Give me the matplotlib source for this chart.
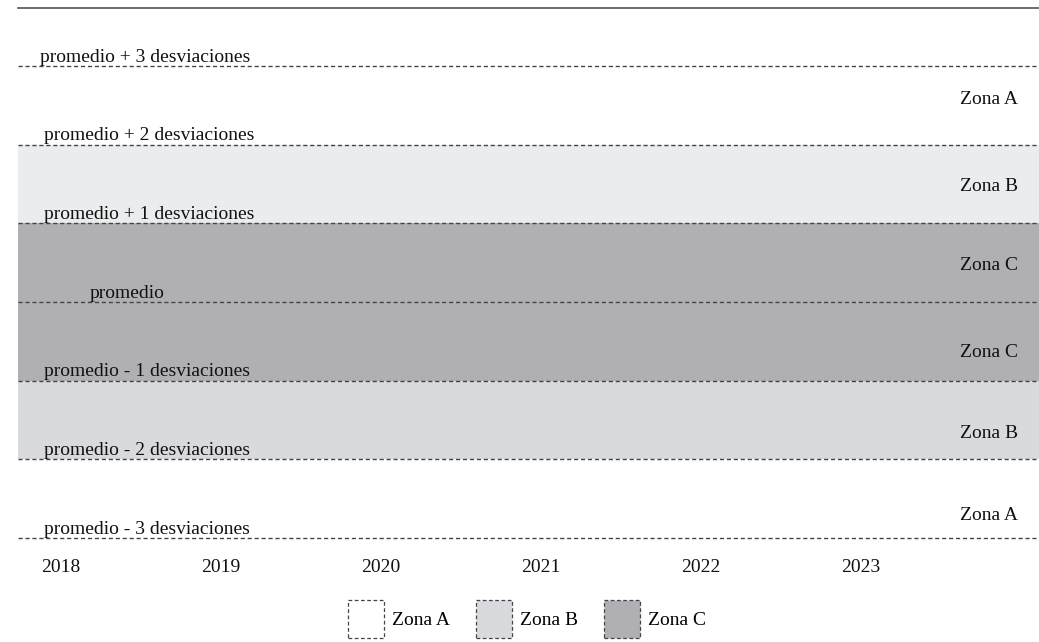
import matplotlib
matplotlib.use("Agg")
import matplotlib.pyplot as plt
from matplotlib.patches import Patch

# ---- data ----
years = [2018, 2019, 2020, 2021, 2022, 2023]
sigma_levels = [3, 2, 1, 0, -1, -2, -3]
level_labels = ["promedio + 3 desviaciones", "promedio + 2 desviaciones",
                "promedio + 1 desviaciones", "promedio",
                "promedio - 1 desviaciones", "promedio - 2 desviaciones",
                "promedio - 3 desviaciones"]
band_top = [3, 2, 1, 0, -1, -2]
band_bottom = [2, 1, 0, -1, -2, -3]
band_zone = ["Zona A", "Zona B", "Zona C", "Zona C", "Zona B", "Zona A"]
legend_zones = ["Zona A", "Zona B", "Zona C"]

# ---- styles ----
band_colors = ["#ffffff", "#ebecee", "#b0afb4", "#b0afb4", "#d9dadd", "#ffffff"]
legend_colors = ["#ffffff", "#d9dadd", "#b0afb4"]
line_color = "#444444"
FONT = "Liberation Serif"
FS = 14

plt.rcParams["font.family"] = [FONT, "DejaVu Serif"]

W, H = 1039, 642
fig = plt.figure(figsize=(W / 100, H / 100), dpi=100)
ax_left, ax_right = 18 / W, 1.0
ax_top, ax_bottom = 1 - 8 / H, 1 - 548 / H
ax = fig.add_axes([ax_left, ax_bottom, ax_right - ax_left, ax_top - ax_bottom])

px_per_sigma = (538 - 66) / 6.0
y_top = (302 - 8) / px_per_sigma
y_bot = (302 - 548) / px_per_sigma
ax.set_ylim(y_bot, y_top)
px_per_year = 160.0
ax.set_xlim(2018 - (61 - 18) / px_per_year, 2018 + (1039 - 61) / px_per_year)

# bands
for t, b, c in zip(band_top, band_bottom, band_colors):
    ax.axhspan(b, t, color=c, lw=0, zorder=0)

# dashed level lines
for lvl in sigma_levels:
    ax.axhline(lvl, color=line_color, lw=1.0, linestyle=(0, (3, 2)), zorder=2,
               clip_on=False)

ytr = ax.get_yaxis_transform()
# left labels
left_x = [0.0215, 0.0255, 0.0255, 0.0705, 0.0255, 0.0255, 0.0255]
for lvl, lab, lx in zip(sigma_levels, level_labels, left_x):
    ax.annotate(lab, xy=(lx, lvl), xycoords=ytr, xytext=(0, 3),
                textcoords="offset points", ha="left", va="baseline",
                fontsize=FS, color="#111111", zorder=3)

# right zone labels
zone_label_y = [2.57, 1.47, 0.47, -0.64, -1.67, -2.71]
for zy, z in zip(zone_label_y, band_zone):
    ax.text(0.9794, zy, z, transform=ytr, ha="right", va="center",
            fontsize=FS, color="#111111", zorder=3)

# axes styling
for s in ["left", "right", "bottom"]:
    ax.spines[s].set_visible(False)
ax.spines["top"].set_color("#555555")
ax.spines["top"].set_linewidth(1.2)
ax.set_yticks([])
ax.set_xticks(years)
ax.set_xticklabels([str(y) for y in years], fontsize=FS, color="#111111")
ax.tick_params(axis="x", length=0, pad=8)

# legend
handles = [Patch(facecolor=c, edgecolor=line_color, linestyle=(0, (3, 2)),
                 linewidth=0.9, label=z) for z, c in zip(legend_zones, legend_colors)]
leg = ax.legend(handles=handles, loc="center", bbox_to_anchor=(0.4985, -0.131),
                ncol=3, frameon=False, fontsize=FS, handlelength=1.85,
                handleheight=2.6, handletextpad=0.45, columnspacing=1.3,
                borderaxespad=0)

fig.savefig("out.png", dpi=100)
